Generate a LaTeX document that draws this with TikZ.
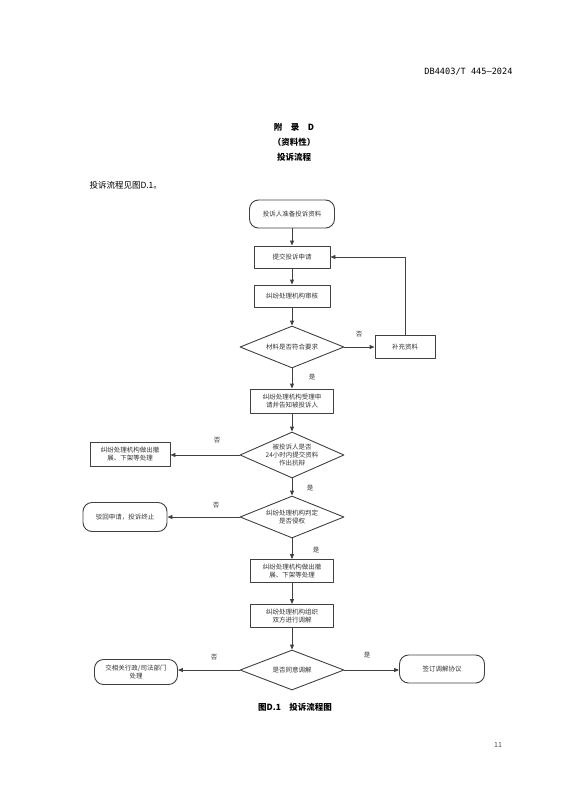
\documentclass[tikz,border=0pt]{standalone}
\usepackage{fontspec}
\setmainfont{Noto Sans CJK SC}
\newfontfamily\hdrfont{DejaVu Sans Mono}
\usetikzlibrary{shapes.geometric,arrows.meta}

\begin{document}
\begin{tikzpicture}[
    x=1pt,y=-1pt,
    font=\fontsize{6.5}{7.8}\selectfont,
    line cap=round,
    line join=round,
    procbox/.style={draw=black!75, line width=0.9pt, text=black!80,
        minimum width=76pt, minimum height=22pt, inner sep=1pt, align=center},
    termbox/.style={procbox, rounded corners=9pt, minimum height=27pt},
    decision/.style={diamond, draw=black!75, line width=0.9pt, text=black!80,
        aspect=2.4, minimum width=104pt, minimum height=42pt, inner sep=-8pt, align=center},
    flow/.style={draw=black!75, line width=0.9pt,
        -{Triangle[length=5pt,width=4pt]}},
    flowlab/.style={font=\fontsize{6.5}{7.5}\selectfont, text=black!80},
    pagetxt/.style={font=\fontsize{8.5}{10}\selectfont}
]

\useasboundingbox (0,0) rectangle (568,799);

% page texts
\node[anchor=east, font=\hdrfont\fontsize{8.6}{10}\selectfont] (hdr) at (516,72) {DB4403/T 445—2024};
\node[font=\bfseries\fontsize{8.5}{10}\selectfont] (annex) at (294,127) {附\quad 录\quad D};
\node[font=\bfseries\fontsize{8.5}{10}\selectfont] (kind) at (294,142) {（资料性）};
\node[font=\bfseries\fontsize{8.5}{10}\selectfont] (ttl) at (294,157) {投诉流程};
\node[pagetxt, anchor=west] (intro) at (86,185) {投诉流程见图D.1。};

% main column
\node[termbox, minimum width=85pt, minimum height=28pt] (start) at (292,214) {投诉人准备投诉资料};
\node[procbox] (submit) at (292,257) {提交投诉申请};
\node[procbox] (review) at (292,296) {纠纷处理机构审核};
\node[decision] (check) at (292,347) {材料是否符合要求};
\node[procbox, minimum width=60pt, minimum height=23pt] (supply) at (405,347) {补充资料};
\node[procbox, minimum width=83pt, minimum height=24pt] (accept) at (292,401) {纠纷处理机构受理申\\请并告知被投诉人};
\node[decision, minimum height=46pt] (defend) at (292,455) {被投诉人是否\\24小时内提交资料\\作出抗辩};
\node[procbox, minimum width=80pt, minimum height=24pt] (remove1) at (130,454) {纠纷处理机构做出撤\\展、下架等处理};
\node[decision] (infringe) at (292,517) {纠纷处理机构判定\\是否侵权};
\node[termbox, minimum width=84pt, minimum height=29pt] (reject) at (125,517) {驳回申请，投诉终止};
\node[procbox, minimum width=83pt, minimum height=23pt] (remove2) at (292,571) {纠纷处理机构做出撤\\展、下架等处理};
\node[procbox, minimum width=83pt, minimum height=23pt] (mediate) at (292,616) {纠纷处理机构组织\\双方进行调解};
\node[decision, minimum height=40pt] (agree) at (292,670) {是否同意调解};
\node[termbox, minimum width=83pt, minimum height=25pt] (transfer) at (136,672) {交相关行政/司法部门\\处理};
\node[termbox, minimum width=85pt, minimum height=28pt] (sign) at (442,669) {签订调解协议};

% connectors
\draw[flow] (start) -- (submit);
\draw[flow] (submit) -- (review);
\draw[flow] (review) -- (check);
\draw[flow] (check) -- (supply);
\draw[flow] (supply.north) |- (submit.east);
\draw[flow] (check) -- (accept);
\draw[flow] (accept) -- (defend);
\draw[flow] (defend.west) -- (remove1.east |- defend.west);
\draw[flow] (defend) -- (infringe);
\draw[flow] (infringe) -- (reject);
\draw[flow] (infringe) -- (remove2);
\draw[flow] (remove2) -- (mediate);
\draw[flow] (mediate) -- (agree);
\draw[flow] (agree.west) -- (transfer.east |- agree.west);
\draw[flow] (agree.east) -- (sign.west |- agree.east);

% branch labels
\node[flowlab] (noA) at (359,334) {否};
\node[flowlab] (yesA) at (312,377) {是};
\node[flowlab] (noB) at (217,440) {否};
\node[flowlab] (yesB) at (310,488) {是};
\node[flowlab] (noC) at (216,505) {否};
\node[flowlab] (yesC) at (316,550) {是};
\node[flowlab] (noD) at (214,657) {否};
\node[flowlab] (yesD) at (367,655) {是};

% caption and page number
\node[font=\bfseries\fontsize{8.5}{10}\selectfont] (cap) at (295,707) {图D.1\quad 投诉流程图};
\node[font=\fontsize{7}{8}\selectfont, text=black!70] (pgno) at (498,745) {11};
\end{tikzpicture}
\end{document}
